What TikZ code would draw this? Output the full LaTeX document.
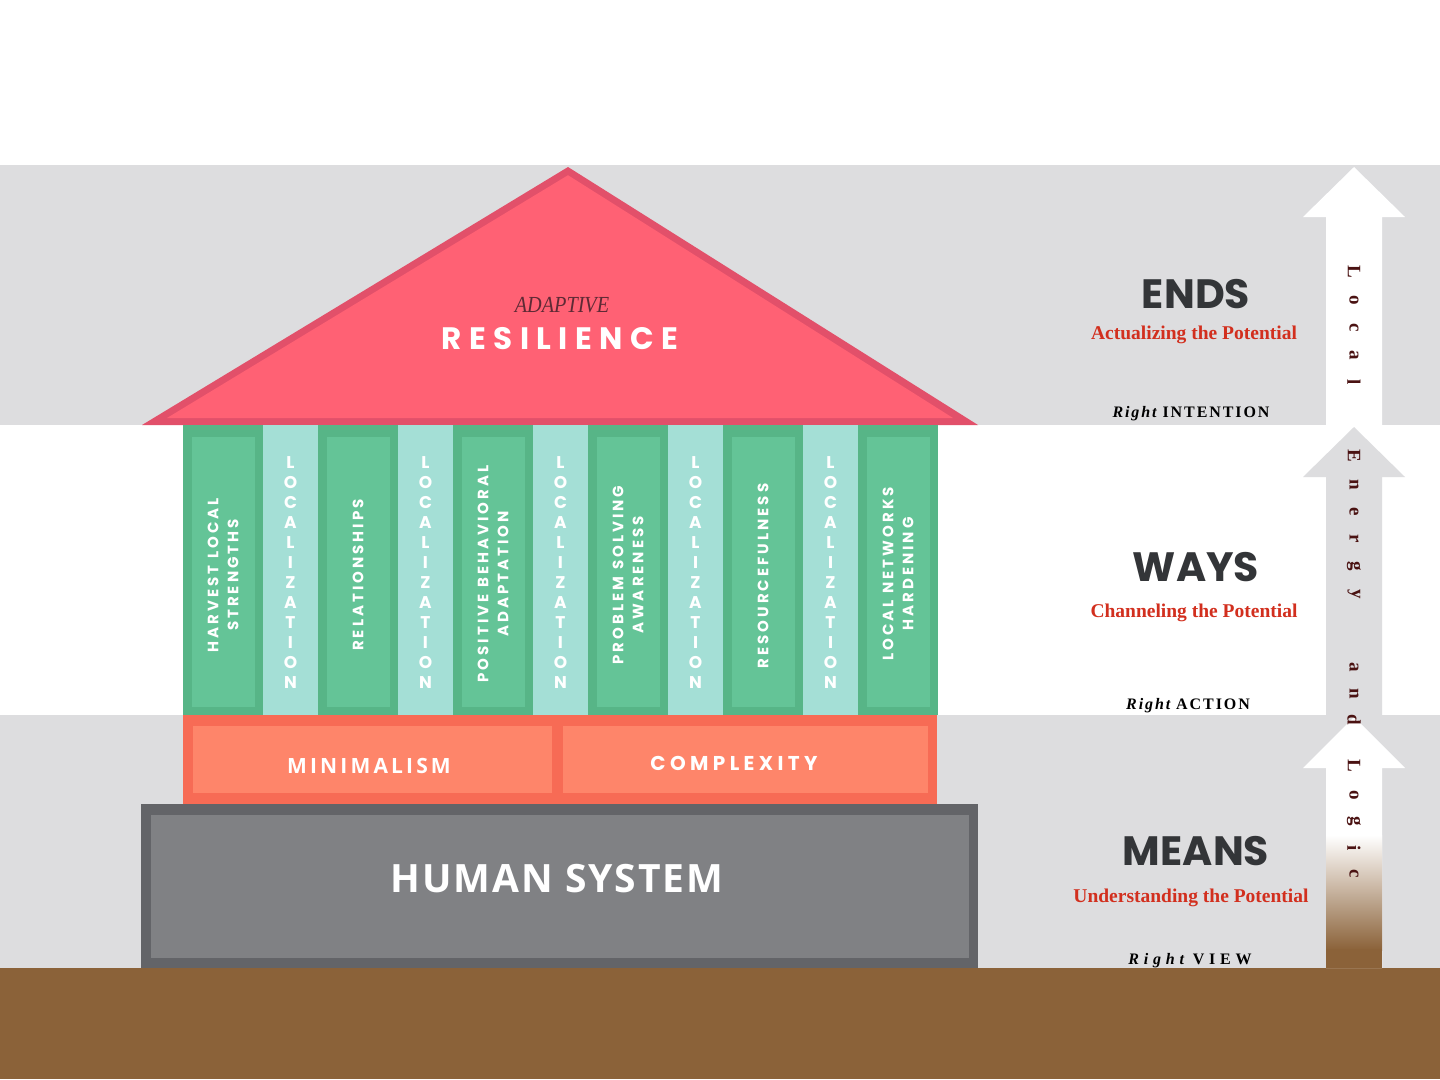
\documentclass[tikz,border=0pt]{standalone}
\usepackage{fontspec}
\setmainfont{Liberation Serif}
\newfontfamily\pop{Poppins}
\newfontfamily\popcol{Poppins}[LetterSpace=20]
\newfontfamily\popres{Poppins}[LetterSpace=24]
\newfontfamily\popcx{Poppins}[LetterSpace=22]
\newfontfamily\osmin{Open Sans}[LetterSpace=15]
\newfontfamily\oshum{Open Sans}[LetterSpace=5]
\newfontfamily\sersp{Liberation Serif}[LetterSpace=12]
\newfontfamily\serwide{Liberation Serif}[LetterSpace=30]
\newcommand\fsz[2]{\fontsize{#1}{#2}\selectfont}
\newcommand\wsp{\hspace{0.45em}}
\definecolor{band}{HTML}{DDDDDF}
\definecolor{ground}{HTML}{8B6239}
\definecolor{roofout}{HTML}{E2506A}
\definecolor{roofin}{HTML}{FF6174}
\definecolor{colout}{HTML}{57B587}
\definecolor{colin}{HTML}{64C497}
\definecolor{teal}{HTML}{A4DFD6}
\definecolor{coralout}{HTML}{F76B55}
\definecolor{coralin}{HTML}{FE856A}
\definecolor{baseout}{HTML}{636468}
\definecolor{basein}{HTML}{808184}
\definecolor{headtxt}{HTML}{333538}
\definecolor{redtxt}{HTML}{D22F1E}
\definecolor{adapt}{HTML}{5E2A35}
\definecolor{arrowtxt}{HTML}{4A1212}
\begin{document}
\begin{tikzpicture}[x=1pt,y=-1pt,
  coltext/.style={rotate=90,align=center,text=white,font=\popcol\bfseries\fsz{15}{20}},
  loctext/.style={align=center,text=white,font=\pop\bfseries\fsz{17}{20}},
  head/.style={text=headtxt,font=\pop\bfseries\fsz{41}{42}},
  sub/.style={text=redtxt,font=\bfseries\fsz{19.5}{22}},
  right/.style={text=black,font=\fsz{16}{18}},
  arrowletter/.style={rotate=-90,text=arrowtxt,font=\bfseries\fsz{19}{20},inner sep=0pt}]
\useasboundingbox (0,0) rectangle (1440,1079);
% background bands
\fill[white] (0,0) rectangle (1440,1079);
\fill[band] (0,165) rectangle (1440,425);
\fill[band] (0,715) rectangle (1440,968);
\fill[ground] (0,968) rectangle (1440,1079);

% roof
\fill[roofout] (568,167) -- (142,425) -- (978,425) -- cycle;
\fill[roofin] (568,175.2) -- (167,418) -- (953,418) -- cycle;
\node[text=adapt,font=\itshape\fsz{23}{24},xscale=0.88] (adaptive) at (562,305) {ADAPTIVE};
\node[text=white,font=\popres\bfseries\fsz{31}{34}] (resilience) at (560,339) {RESILIENCE};

% columns
\foreach \xa/\xb in {183/263,318/398,453/533,588/668,723/803,858/938}{
  \fill[colout] (\xa,425) rectangle (\xb,715);
  \fill[colin] ({\xa+9},437) rectangle ({\xb-8},707);
}
\foreach \xa/\xb in {263/318,398/453,533/588,668/723,803/858}{
  \fill[teal] (\xa,425) rectangle (\xb,715);
  \node[loctext] (loc\xa) at ({(\xa+\xb)/2},573) {L\\O\\C\\A\\L\\I\\Z\\A\\T\\I\\O\\N};
}
\node[coltext] (harvest) at (223,575) {HARVEST\wsp LOCAL\\STRENGTHS};
\node[coltext] (relations) at (358,575) {RELATIONSHIPS};
\node[coltext] (positive) at (493,574) {POSITIVE\wsp BEHAVIORAL\\ADAPTATION};
\node[coltext] (problem) at (628,575) {PROBLEM\wsp SOLVING\\AWARENESS};
\node[coltext] (resource) at (763,576) {RESOURCEFULNESS};
\node[coltext] (networks) at (898,574) {LOCAL\wsp NETWORKS\\HARDENING};

% minimalism / complexity bar
\fill[coralout] (183,715) rectangle (937,804);
\fill[coralin] (193,726) rectangle (552,793);
\fill[coralin] (563,726) rectangle (928,793);
\node[text=white,font=\osmin\bfseries\fsz{21}{24}] (minimal) at (369,766) {MINIMALISM};
\node[text=white,font=\popcx\bfseries\fsz{20}{24}] (complex) at (734,763) {COMPLEXITY};

% human system base
\fill[baseout] (141,804) rectangle (978,968);
\fill[basein] (151,815) rectangle (969,958);
\node[text=white,font=\oshum\bfseries\fsz{39}{42}] (human) at (557,879) {HUMAN SYSTEM};

% right-hand labels
\node[head] (ends) at (1196,294) {ENDS};
\node[sub] (endsub) at (1194,335) {Actualizing the Potential};
\node[right] (endright) at (1191,414) {\sersp\bfseries\itshape Right \upshape INTENTION};
\node[head] (ways) at (1196,567) {WAYS};
\node[sub] (waysub) at (1194,613) {Channeling the Potential};
\node[right] (waysright) at (1188,706) {\sersp\bfseries\itshape Right \upshape ACTION};
\node[head] (means) at (1196,851) {MEANS};
\node[sub] (meansub) at (1191,898) {Understanding the Potential};
\node[right] (meansright) at (1190,961) {\serwide\bfseries\itshape Right \upshape VIEW};

% arrows
\fill[white] (1354,167) -- (1405,217) -- (1382,217) -- (1382,425) -- (1326,425) -- (1326,217) -- (1303,217) -- cycle;
\fill[band] (1354,427) -- (1405,477) -- (1382,477) -- (1382,715) -- (1326,715) -- (1326,477) -- (1303,477) -- cycle;
\fill[white] (1354,717) -- (1405,768) -- (1382,768) -- (1382,968) -- (1326,968) -- (1326,768) -- (1303,768) -- cycle;
\shade[top color=white,bottom color=ground] (1326,835) rectangle (1382,950);
\fill[ground] (1326,949) rectangle (1382,968);

\foreach \ch/\yy in {L/272,o/300,c/328,a/355,l/382,E/456,n/485,e/512,r/539,g/566,y/594,a/667,n/694,d/720,L/766,o/795,g/821,i/848,c/874}{
  \node[arrowletter] (let\yy) at (1354,\yy) {\ch};
}
\end{tikzpicture}
\end{document}
